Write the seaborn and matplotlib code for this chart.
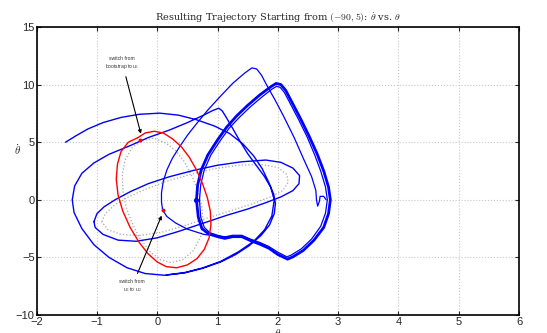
import numpy as np
import pandas as pd
import matplotlib
matplotlib.use("Agg")
import matplotlib.pyplot as plt
import seaborn as sns

# bootstrap trajectory (start at (-1.5, 5), two passes round the outer orbit)
boot_x = [-1.52, -1.35, -1.15, -0.90, -0.60, -0.30, 0.04, 0.35, 0.65, 0.95, 1.20, 1.42, 1.60, 1.74,
          1.85, 1.93, 1.96, 1.94, 1.86, 1.72, 1.52, 1.30, 1.05, 0.75, 0.45, 0.12, -0.20, -0.50,
          -0.80, -1.05, -1.25, -1.38, -1.41, -1.37, -1.25, -1.05, -0.80, -0.45, -0.15, 0.20, 0.50,
          0.75, 0.92, 1.02, 1.08, 1.15, 1.25, 1.37, 1.50, 1.64, 1.78, 1.88, 1.94, 1.90, 1.78, 1.60,
          1.35, 1.05, 0.75, 0.45, 0.15]
boot_y = [5.00, 5.55, 6.15, 6.70, 7.15, 7.42, 7.52, 7.35, 6.95, 6.40, 5.75, 4.85, 3.80, 2.70,
          1.50, 0.50, -0.30, -1.20, -2.20, -3.10, -4.00, -4.75, -5.40, -5.95, -6.35, -6.55, -6.40,
          -5.90, -5.00, -3.90, -2.50, -1.10, 0.00, 1.20, 2.30, 3.20, 3.95, 4.70, 5.40, 6.05, 6.70,
          7.30, 7.75, 7.95, 7.70, 7.10, 6.20, 5.10, 4.00, 3.00, 2.00, 1.10, 0.00, -1.40, -2.60,
          -3.60, -4.50, -5.35, -5.92, -6.32, -6.52]

# tilted loop
tilt_x = [-1.05, -1.00, -0.88, -0.70, -0.45, -0.15, 0.20, 0.60, 1.00, 1.40, 1.80, 2.05, 2.25, 2.36,
          2.35, 2.25, 2.05, 1.80, 1.50, 1.15, 0.75, 0.35, 0.00, -0.35, -0.65, -0.90, -1.03, -1.05]
tilt_y = [-1.90, -1.20, -0.60, 0.00, 0.70, 1.40, 2.00, 2.55, 3.00, 3.30, 3.45, 3.25, 2.75, 2.10,
          1.40, 0.80, 0.25, -0.25, -0.80, -1.35, -2.05, -2.75, -3.30, -3.60, -3.50, -3.00, -2.40,
          -1.90]

# u2 trajectory through the second switch point
u2_x = [1.37, 1.05, 0.77, 0.50, 0.30, 0.16, 0.09, 0.07, 0.07, 0.10, 0.16, 0.25, 0.37, 0.50, 0.65,
        0.84, 1.05, 1.25, 1.45, 1.57, 1.65, 1.73, 1.82, 1.95, 2.10, 2.27, 2.43, 2.56, 2.63, 2.64,
        2.66, 2.69, 2.70, 2.76, 2.80]
u2_y = [-3.25, -3.20, -3.00, -2.55, -2.00, -1.45, -0.90, -0.20, 0.60, 1.60, 2.60, 3.60, 4.60, 5.60,
        6.60, 7.80, 9.00, 10.10, 11.00, 11.45, 11.35, 10.80, 9.90, 8.70, 7.20, 5.40, 3.50, 2.00,
        0.80, 0.00, -0.55, -0.10, 0.30, 0.30, 0.00]

# converged cycle (outer pass and inner pass)
cyc_x = [0.65, 0.67, 0.73, 0.84, 1.00, 1.15, 1.32, 1.50, 1.70, 1.88, 1.97, 2.05, 2.13, 2.24, 2.38,
         2.52, 2.65, 2.76, 2.84, 2.87, 2.84, 2.76, 2.60, 2.42, 2.25, 2.16, 2.00, 1.85, 1.70, 1.55,
         1.40, 1.25, 1.12, 1.00, 0.85, 0.74, 0.68, 0.65]
cyc_y = [0.00, 1.30, 2.60, 3.90, 5.20, 6.30, 7.30, 8.20, 9.10, 9.80, 10.10, 10.00, 9.50, 8.40, 7.00,
         5.50, 4.00, 2.50, 1.10, 0.00, -1.20, -2.40, -3.50, -4.40, -4.95, -5.15, -4.75, -4.20,
         -3.85, -3.55, -3.20, -3.20, -3.35, -3.20, -2.95, -2.50, -1.50, 0.00]
cyc2_x = [0.70, 0.72, 0.78, 0.89, 1.04, 1.19, 1.36, 1.54, 1.73, 1.90, 1.98, 2.04, 2.11, 2.21, 2.35,
          2.49, 2.61, 2.71, 2.79, 2.82, 2.79, 2.71, 2.56, 2.39, 2.22, 2.15, 2.00, 1.85, 1.70, 1.55,
          1.40, 1.25, 1.12, 1.00, 0.87, 0.78, 0.72, 0.70]
cyc2_y = [0.00, 1.30, 2.60, 3.90, 5.10, 6.20, 7.15, 8.05, 8.90, 9.60, 9.85, 9.75, 9.30, 8.30, 6.90,
          5.40, 3.90, 2.50, 1.10, 0.00, -1.15, -2.30, -3.40, -4.25, -4.80, -4.95, -4.55, -4.05,
          -3.70, -3.42, -3.08, -3.08, -3.22, -3.08, -2.85, -2.40, -1.50, 0.00]

# u1 part (red)
red_x = [-0.32, -0.20, -0.05, 0.10, 0.25, 0.40, 0.53, 0.65, 0.75, 0.83, 0.88, 0.89, 0.86, 0.78,
         0.66, 0.50, 0.32, 0.15, 0.00, -0.15, -0.30, -0.45, -0.57, -0.65, -0.68, -0.66, -0.60,
         -0.48, -0.32]
red_y = [5.40, 5.80, 5.95, 5.80, 5.30, 4.60, 3.70, 2.60, 1.40, 0.20, -1.00, -2.20, -3.30, -4.30,
         -5.10, -5.65, -5.90, -5.80, -5.40, -4.70, -3.70, -2.40, -1.00, 0.40, 1.80, 3.10, 4.20,
         5.00, 5.40]

# reference orbits (grey dotted)
ref1_x = [-0.25, -0.05, 0.15, 0.30, 0.45, 0.58, 0.68, 0.74, 0.76, 0.72, 0.60, 0.42, 0.23, 0.05,
          -0.12, -0.28, -0.42, -0.52, -0.57, -0.58, -0.53, -0.42, -0.25]
ref1_y = [5.15, 5.35, 4.90, 4.30, 3.30, 2.00, 0.70, -0.60, -1.90, -3.20, -4.40, -5.20, -5.45, -5.20,
          -4.50, -3.40, -2.00, -0.60, 0.80, 2.20, 3.50, 4.50, 5.15]
ref2_x = [-0.92, -0.86, -0.72, -0.50, -0.20, 0.15, 0.55, 0.95, 1.35, 1.75, 2.00, 2.15, 2.17, 2.08,
          1.90, 1.60, 1.25, 0.85, 0.45, 0.05, -0.30, -0.60, -0.82, -0.92]
ref2_y = [-1.90, -1.20, -0.50, 0.20, 0.90, 1.60, 2.20, 2.70, 3.00, 3.05, 2.80, 2.20, 1.50, 0.80,
          0.30, -0.30, -0.90, -1.55, -2.25, -2.85, -3.10, -3.00, -2.60, -1.90]

switch_x = [-0.28, 0.09]
switch_y = [5.20, -0.90]

segs = [("boot", boot_x, boot_y), ("tilt", tilt_x, tilt_y), ("u2", u2_x, u2_y),
        ("cyc", cyc_x, cyc_y), ("cyc2", cyc2_x, cyc2_y), ("red", red_x, red_y),
        ("ref1", ref1_x, ref1_y), ("ref2", ref2_x, ref2_y)]
df = pd.concat([pd.DataFrame({"theta": x, "thetadot": y, "seg": n})
                for n, x, y in segs], ignore_index=True)

sns.set_style("ticks")
plt.rcParams["mathtext.fontset"] = "cm"
plt.rcParams["font.family"] = ["Liberation Sans", "DejaVu Sans"]

fig = plt.figure(figsize=(5.47, 3.33), dpi=100)
ax = fig.add_axes([0.067, 0.054, 0.882, 0.865])

style = {
    "ref1": dict(color="#a8a8a8", lw=0.9, ls=":"),
    "ref2": dict(color="#a8a8a8", lw=0.9, ls=":"),
    "boot": dict(color="#0000ff", lw=1.0, ls="-"),
    "tilt": dict(color="#0000ff", lw=1.0, ls="-"),
    "u2": dict(color="#0000ff", lw=0.9, ls="-"),
    "cyc": dict(color="#0000ff", lw=2.0, ls="-"),
    "cyc2": dict(color="#0000ff", lw=0.9, ls="-"),
    "red": dict(color="#ff0000", lw=1.0, ls="-"),
}
for name, st in style.items():
    sub = df[df["seg"] == name]
    sns.lineplot(data=sub, x="theta", y="thetadot", sort=False, estimator=None,
                 color=st["color"], linewidth=st["lw"], linestyle=st["ls"], ax=ax)

sns.scatterplot(x=switch_x, y=switch_y, color="#ff0000", s=8, linewidth=0, ax=ax, zorder=5)
sns.scatterplot(x=[cyc_x[0]], y=[cyc_y[0]], color="#0000ff", s=14, linewidth=0, ax=ax, zorder=5)

ax.annotate("switch from\nbootstrap to u$_1$", xy=(switch_x[0] + 0.02, switch_y[0] + 0.3),
            xytext=(-0.58, 11.2), ha="center", va="bottom", fontsize=3.6, color="#333333",
            arrowprops=dict(arrowstyle="-|>", color="black", lw=0.8, mutation_scale=5))
ax.annotate("switch from\nu$_1$ to u$_2$", xy=(switch_x[1], -1.15), xytext=(-0.42, -6.9),
            ha="center", va="top", fontsize=3.6, color="#333333",
            arrowprops=dict(arrowstyle="-|>", color="black", lw=0.8, mutation_scale=5))

ax.set_xlim(-2, 6)
ax.set_ylim(-10, 15)
ax.set_xticks(range(-2, 7))
ax.set_yticks([-10, -5, 0, 5, 10, 15])
ax.grid(True, color="#c8c8c8", linestyle=":", linewidth=0.8)
ax.tick_params(direction="in", length=3, width=0.8, labelsize=8, pad=1.5,
               top=True, right=True)
for sp in ax.spines.values():
    sp.set_visible(True)
    sp.set_linewidth(1.2)
    sp.set_color("black")

ax.set_xlabel(r"$\theta$", fontsize=8, labelpad=0)
ax.set_ylabel(r"$\dot{\theta}$", fontsize=8, rotation=0)
ax.yaxis.set_label_coords(-0.04, 0.55)
ax.set_title(r"Resulting Trajectory Starting from $(-90,5)$: $\dot{\theta}$ vs. $\theta$",
             fontsize=7, family="DejaVu Serif", pad=4)

fig.savefig("out.png", dpi=100)
